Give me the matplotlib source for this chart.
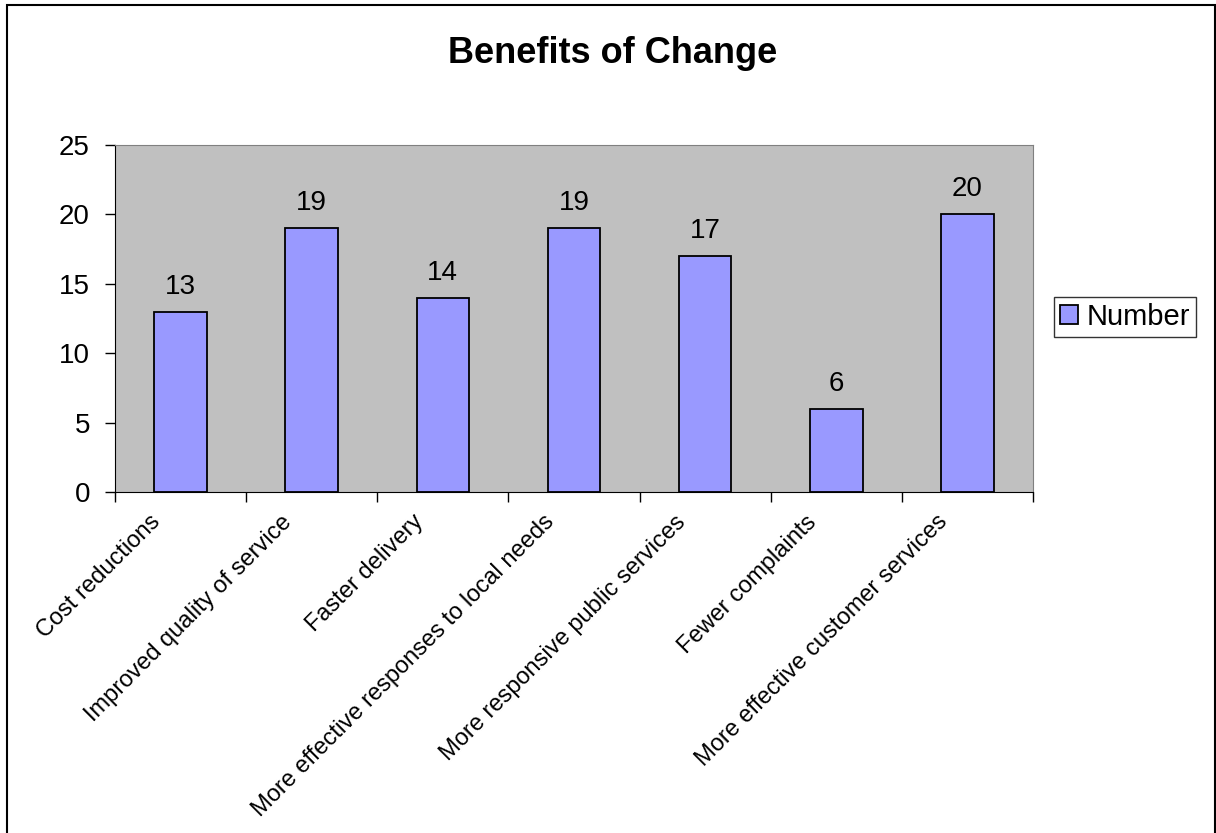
import matplotlib.pyplot as plt
from matplotlib.patches import Rectangle

plt.rcParams['font.family'] = ['Liberation Sans', 'DejaVu Sans']

# survey answers
categories = ['Cost reductions', 'Improved quality of service', 'Faster delivery',
              'More effective responses to local needs', 'More responsive public services',
              'Fewer complaints', 'More effective customer services']
number = [13, 19, 14, 19, 17, 6, 20]

W, H = 1216, 833
fig = plt.figure(figsize=(W / 100, H / 100), dpi=100)
ax = fig.add_axes([115/W, 1 - 492/H, (1033-115)/W, (492-145)/H])
ax.set_facecolor('#C0C0C0')

x = range(len(categories))
ax.bar(x, number, width=0.4, color='#9999FF', edgecolor='black', linewidth=1.3,
       label='Number', zorder=3)
for xi, v in zip(x, number):
    ax.annotate(str(v), xy=(xi, v), xytext=(0, 12), textcoords='offset pixels',
                ha='center', va='bottom', fontsize=20)

ax.set_xlim(-0.5, len(categories) - 0.5)
ax.set_ylim(0, 25)
ax.set_yticks([0, 5, 10, 15, 20, 25])
ax.tick_params(axis='y', labelsize=20, length=7, pad=11, direction='out', width=1)

# category labels centred under the bars, ticks on the boundaries
ax.set_xticks([i - 0.5 for i in range(len(categories) + 1)])
ax.set_xticklabels([])
ax.tick_params(axis='x', length=7, direction='out', width=1)
for xi, lab in zip(x, categories):
    ax.annotate(lab, xy=(xi, 0), xycoords=('data', 'axes fraction'),
                xytext=(-31, -19), textcoords='offset pixels',
                rotation=45, ha='right', va='top', rotation_mode='anchor', fontsize=17)

for s in ['top', 'right']:
    ax.spines[s].set_color('#808080')
for s in ['left', 'bottom']:
    ax.spines[s].set_color('black')

fig.text(613/W, 1 - 63/H, 'Benefits of Change', ha='center', va='baseline',
         fontsize=26, fontweight='bold')

leg = ax.legend(loc='upper left', bbox_to_anchor=(1054/W, 1 - 297/H),
                bbox_transform=fig.transFigure, fontsize=21,
                frameon=True, fancybox=False, edgecolor='black', borderpad=0.2,
                handlelength=0.62, handleheight=0.62, handletextpad=0.3, borderaxespad=0)
leg.get_frame().set_linewidth(1)

fig.patches.append(Rectangle((7/W, -0.01), (1215-7)/W, 1 - 5/H + 0.01,
                             transform=fig.transFigure, fill=False,
                             edgecolor='black', linewidth=1.5))

fig.savefig('out.png', dpi=100)
